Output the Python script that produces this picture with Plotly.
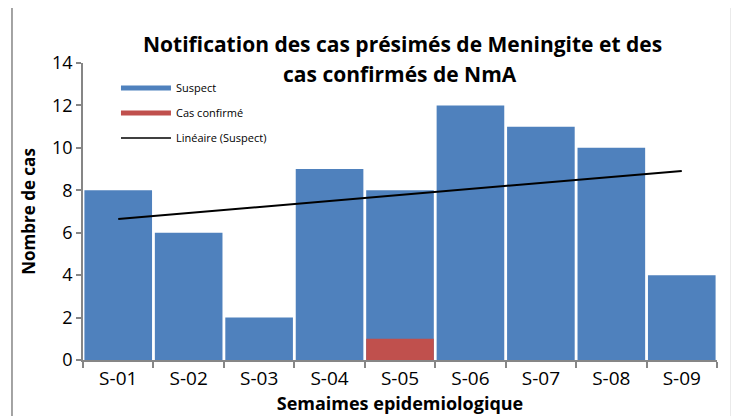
import numpy as np
import plotly.graph_objects as go

semaines = ["S-01", "S-02", "S-03", "S-04", "S-05", "S-06", "S-07", "S-08", "S-09"]
suspect = [8, 6, 2, 9, 8, 12, 11, 10, 4]
confirme = [0, 0, 0, 0, 1, 0, 0, 0, 0]

titre1 = "Notification des cas présimés de Meningite et des"
titre2 = "cas confirmés de NmA"

blue = "#4F81BD"
red = "#C0504D"
grey = "#868686"
font = "'Open Sans', 'Noto Sans', sans-serif"

# linear trend of suspect cases (Excel "Linéaire")
xs = np.arange(1, len(suspect) + 1)
a, b = np.polyfit(xs, suspect, 1)
tendance = a * xs + b

fig = go.Figure()

fig.add_trace(go.Bar(x=semaines, y=suspect, marker=dict(color=blue, line=dict(width=0)),
                     showlegend=False))
fig.add_trace(go.Bar(x=semaines, y=confirme, marker=dict(color=red, line=dict(width=0)),
                     showlegend=False))
fig.add_trace(go.Scatter(x=semaines, y=tendance, mode="lines",
                         line=dict(color="black", width=2), showlegend=False))

# legend entries drawn as lines like in Excel
fig.add_trace(go.Scatter(x=[None], y=[None], mode="lines", name="Suspect",
                         line=dict(color=blue, width=5), legendgroup="a"))
fig.add_trace(go.Scatter(x=[None], y=[None], mode="lines", name="Cas confirmé",
                         line=dict(color=red, width=5), legendgroup="b"))
fig.add_trace(go.Scatter(x=[None], y=[None], mode="lines", name="Linéaire (Suspect)",
                         line=dict(color="black", width=1.5), legendgroup="c"))

# page body has an 8px margin, so margins are offset by 8px
fig.update_layout(
    width=739, height=416,
    margin=dict(l=75, r=30, t=55, b=64),
    paper_bgcolor="white", plot_bgcolor="white",
    font=dict(family=font, color="black"),
    barmode="overlay", bargap=0.04,
    legend=dict(x=0.052, y=0.965, xanchor="left", yanchor="top", itemwidth=50,
                bgcolor="rgba(0,0,0,0)", font=dict(size=11), tracegroupgap=6),
    xaxis=dict(showline=True, linecolor=grey, linewidth=1.5, ticks="outside",
               tickson="boundaries", ticklen=6, tickcolor=grey, tickwidth=1.5,
               tickfont=dict(size=19), showgrid=False, automargin=False,
               title=dict(text="Semaimes epidemiologique", standoff=3,
                          font=dict(size=18, weight="bold"))),
    yaxis=dict(range=[0, 14], dtick=2, showline=True, linecolor=grey, linewidth=1.5,
               ticks="outside", ticklen=5, tickcolor=grey, tickwidth=1.5,
               tickfont=dict(size=18), showgrid=False, zeroline=False, automargin=False,
               title=dict(text="Nombre de cas", standoff=12,
                          font=dict(size=17, weight="bold"))),
    annotations=[
        dict(text=titre1, xref="paper", yref="paper", x=0.504, y=1+(64-45)/297,
             xanchor="center", yanchor="middle", showarrow=False,
             font=dict(size=21, weight="bold")),
        dict(text=titre2, xref="paper", yref="paper", x=0.5, y=1+(64-75)/297,
             xanchor="center", yanchor="middle", showarrow=False,
             font=dict(size=21, weight="bold")),
    ],
    shapes=[dict(type="rect", xref="paper", yref="paper",
                 x0=-0.112, x1=1.023, y0=-0.24, y1=1.195,
                 line=dict(color=grey, width=1.5), fillcolor="rgba(0,0,0,0)")],
)

fig.write_html("out.html")
